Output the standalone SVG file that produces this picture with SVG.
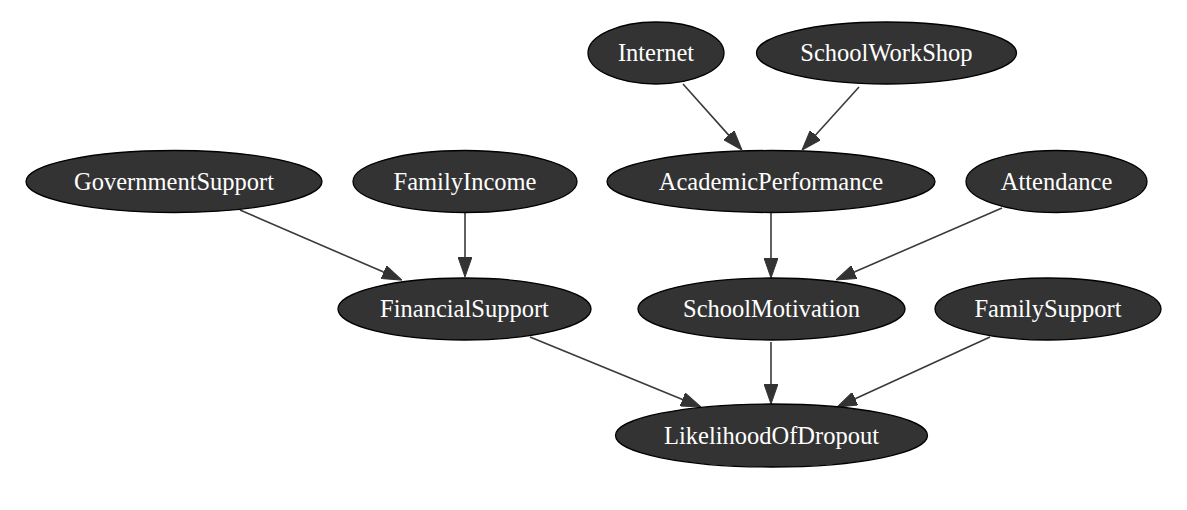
<svg xmlns="http://www.w3.org/2000/svg" width="1187" height="510" viewBox="0 0 1187 510">
<style>
.node ellipse{fill:#333333;stroke:#000000;stroke-width:1.3}
.node text{fill:#ffffff;font-family:"Liberation Serif","Times New Roman",serif;font-size:24.5px;text-anchor:middle}
.edges line{stroke:#3a3a3a;stroke-width:1.6;fill:none}
</style>
<defs>
<marker id="arr" viewBox="0 0 20 14" refX="0" refY="7" markerWidth="20" markerHeight="14" markerUnits="userSpaceOnUse" orient="auto">
<path d="M0,0 L20,7 L0,14 z" fill="#333333" stroke="#333333" stroke-width="1"/>
</marker>
</defs>
<rect width="1187" height="510" fill="#ffffff"/>
<g id="connectors" class="edges">
<line x1="683" y1="84" x2="728.7" y2="135.1" marker-end="url(#arr)"/>
<line x1="859" y1="87" x2="815.4" y2="135.2" marker-end="url(#arr)"/>
<line x1="240" y1="210" x2="383.6" y2="272.1" marker-end="url(#arr)"/>
<line x1="465" y1="213" x2="465" y2="257" marker-end="url(#arr)"/>
<line x1="771" y1="213" x2="771" y2="258" marker-end="url(#arr)"/>
<line x1="1002" y1="208" x2="854.3" y2="272" marker-end="url(#arr)"/>
<line x1="530" y1="337" x2="682.5" y2="399.4" marker-end="url(#arr)"/>
<line x1="771" y1="342" x2="771" y2="384" marker-end="url(#arr)"/>
<line x1="990" y1="337" x2="855.2" y2="398.7" marker-end="url(#arr)"/>
</g>
<g id="Internet" class="node"><ellipse cx="656" cy="53" rx="68" ry="31"/><text x="656" y="61">Internet</text></g>
<g id="SchoolWorkShop" class="node"><ellipse cx="886.5" cy="53" rx="130" ry="31"/><text x="886.5" y="61">SchoolWorkShop</text></g>
<g id="GovernmentSupport" class="node"><ellipse cx="174" cy="181.5" rx="148" ry="31"/><text x="174" y="189.5">GovernmentSupport</text></g>
<g id="FamilyIncome" class="node"><ellipse cx="465" cy="181.5" rx="112" ry="31"/><text x="465" y="189.5">FamilyIncome</text></g>
<g id="AcademicPerformance" class="node"><ellipse cx="771" cy="181.5" rx="164" ry="31"/><text x="771" y="189.5">AcademicPerformance</text></g>
<g id="Attendance" class="node"><ellipse cx="1056.5" cy="181.5" rx="90.5" ry="31"/><text x="1056.5" y="189.5">Attendance</text></g>
<g id="FinancialSupport" class="node"><ellipse cx="464.5" cy="309" rx="126.5" ry="31"/><text x="464.5" y="317">FinancialSupport</text></g>
<g id="SchoolMotivation" class="node"><ellipse cx="771.5" cy="309" rx="133.5" ry="31"/><text x="771.5" y="317">SchoolMotivation</text></g>
<g id="FamilySupport" class="node"><ellipse cx="1048" cy="309" rx="113" ry="31"/><text x="1048" y="317">FamilySupport</text></g>
<g id="LikelihoodOfDropout" class="node"><ellipse cx="771.5" cy="435.5" rx="156" ry="31.5"/><text x="771.5" y="443.5">LikelihoodOfDropout</text></g>
</svg>
